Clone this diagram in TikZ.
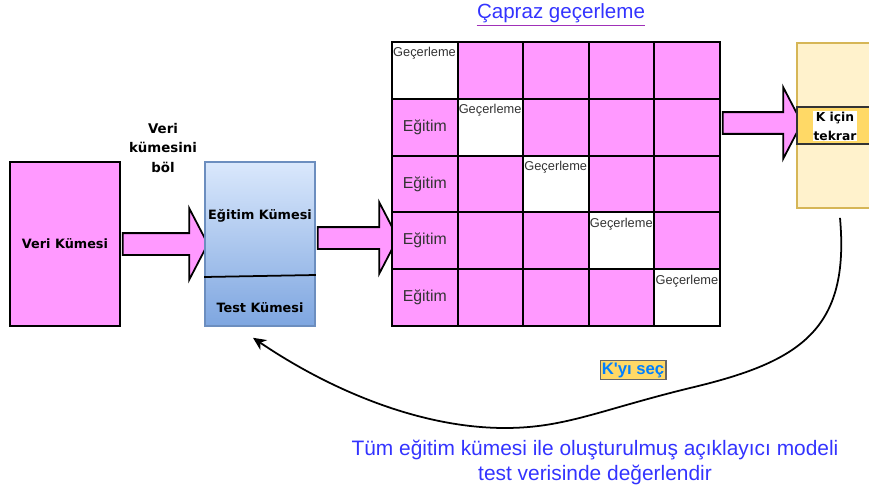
\documentclass[tikz,border=0pt]{standalone}
\usepackage{fontspec}
\setmainfont{Liberation Sans}
\newfontfamily\dejavu{DejaVu Sans}
\usepackage{tikz}
\usetikzlibrary{arrows.meta,shapes.arrows}
\definecolor{pinkcell}{HTML}{FF99FF}
\definecolor{celltext}{HTML}{333333}
\definecolor{splittop}{HTML}{DAE8FC}
\definecolor{splitbot}{HTML}{7EA6E0}
\definecolor{splitedge}{HTML}{6C8EBF}
\definecolor{repfill}{HTML}{FFF2CC}
\definecolor{repedge}{HTML}{D6B656}
\definecolor{kgold}{HTML}{FFD966}
\definecolor{titleblue}{HTML}{3333FF}
\definecolor{ulpurple}{HTML}{A030B8}
\definecolor{kblue}{HTML}{007FFF}
\tikzset{cell/.style={draw=black,line width=1.1pt,fill=pinkcell,minimum width=1.312cm,minimum height=1.136cm,inner sep=0,text=celltext,font=\fontsize{9}{11}\selectfont},valcell/.style={cell,fill=white,label={[anchor=north west,inner xsep=1pt,inner ysep=3.5pt,text=celltext,font=\fontsize{7.3}{9}\selectfont]north west:Geçerleme}},blockarr/.style={single arrow,draw=black,line width=1pt,fill=pinkcell,inner sep=0.2cm,single arrow head extend=0.5cm,single arrow tip angle=125},boldlbl/.style={font=\dejavu\bfseries\fontsize{7.3}{11}\selectfont,align=center,inner sep=1pt}}

\begin{document}
\begin{tikzpicture}[x=0.02cm,y=-0.02cm,datbox/.style={draw=black,line width=0.9pt,fill=pinkcell,minimum width=2.2cm,minimum height=3.28cm,boldlbl},splitbox/.style={draw=splitedge,line width=0.9pt,top color=splittop,bottom color=splitbot,minimum width=2.2cm,minimum height=3.28cm},repbox/.style={draw=repedge,line width=1pt,fill=repfill,minimum width=1.72cm,minimum height=3.3cm},kband/.style={draw=black!80,line width=0.8pt,fill=kgold,minimum width=1.72cm,minimum height=0.74cm},retarr/.style={-{Stealth[length=2.6mm,width=2.4mm]},draw=black,line width=1pt}]
\useasboundingbox (0,0) rectangle (869,490);
\clip (0,0) rectangle (869,490);
\node[datbox] (veri) at (65,244) {Veri Kümesi};
\node[boldlbl,font=\dejavu\bfseries\fontsize{7.6}{11}\selectfont] (cut) at (163,148) {Veri\\kümesini\\böl};
\node[blockarr,minimum height=1.7cm] (a1) at (162.5,244) {};
\node[splitbox] (split) at (260,244) {};
\draw[line width=1pt] ([shift={(0,33)}]split.west)--([shift={(0,31)}]split.east);
\node[boldlbl] (train) at (260,216) {Eğitim Kümesi};
\node[boldlbl] (test) at (260,308) {Test Kümesi};
\node[blockarr,minimum height=1.6cm] (a2) at (355,238) {};
\node[font=\fontsize{11.7}{14}\selectfont,text=titleblue,inner xsep=0,inner ysep=1.5pt] (cv) at (561,13) {Çapraz geçerleme};
\draw[ulpurple,line width=1pt] (cv.south west)--(cv.south east);
\node[valcell] (c11) at (424.8,70.4) {};\node[cell] (c12) at (490.4,70.4) {};\node[cell] (c13) at (556,70.4) {};\node[cell] (c14) at (621.6,70.4) {};\node[cell] (c15) at (687.2,70.4) {};
\node[cell] (c21) at (424.8,127.2) {Eğitim};\node[valcell] (c22) at (490.4,127.2) {};\node[cell] (c23) at (556,127.2) {};\node[cell] (c24) at (621.6,127.2) {};\node[cell] (c25) at (687.2,127.2) {};
\node[cell] (c31) at (424.8,184) {Eğitim};\node[cell] (c32) at (490.4,184) {};\node[valcell] (c33) at (556,184) {};\node[cell] (c34) at (621.6,184) {};\node[cell] (c35) at (687.2,184) {};
\node[cell] (c41) at (424.8,240.8) {Eğitim};\node[cell] (c42) at (490.4,240.8) {};\node[cell] (c43) at (556,240.8) {};\node[valcell] (c44) at (621.6,240.8) {};\node[cell] (c45) at (687.2,240.8) {};
\node[cell] (c51) at (424.8,297.6) {Eğitim};\node[cell] (c52) at (490.4,297.6) {};\node[cell] (c53) at (556,297.6) {};\node[cell] (c54) at (621.6,297.6) {};\node[valcell] (c55) at (687.2,297.6) {};
\node[blockarr,minimum height=1.58cm] (a3) at (759.5,123) {};
\node[repbox] (rep) at (840,125.5) {};
\node[kband] (kb) at (840,125.5) {};
\node[boldlbl,font=\dejavu\bfseries\fontsize{7}{10.8}\selectfont,fill=white,inner sep=0.5pt] (kt) at (835,126) {K için\\tekrar};
\draw[retarr] ([shift={(0,9)}]rep.south) .. controls (850,330) and (800,362) .. (690,388) .. controls (600,410) and (565,428) .. (505,428) .. controls (420,428) and (330,390) .. ([shift={(-7,11)}]split.south);
\node[draw=black!60,line width=0.6pt,fill=kgold,text=kblue,font=\bfseries\fontsize{9.5}{11}\selectfont,inner sep=1pt] (ksel) at (633,370) {K\textquotesingle yı seç};
\node[font=\fontsize{11.9}{14.2}\selectfont,text=titleblue,align=center] (ev) at (595,462) {Tüm eğitim kümesi ile oluşturulmuş açıklayıcı modeli\\test verisinde değerlendir};
\end{tikzpicture}
\end{document}
